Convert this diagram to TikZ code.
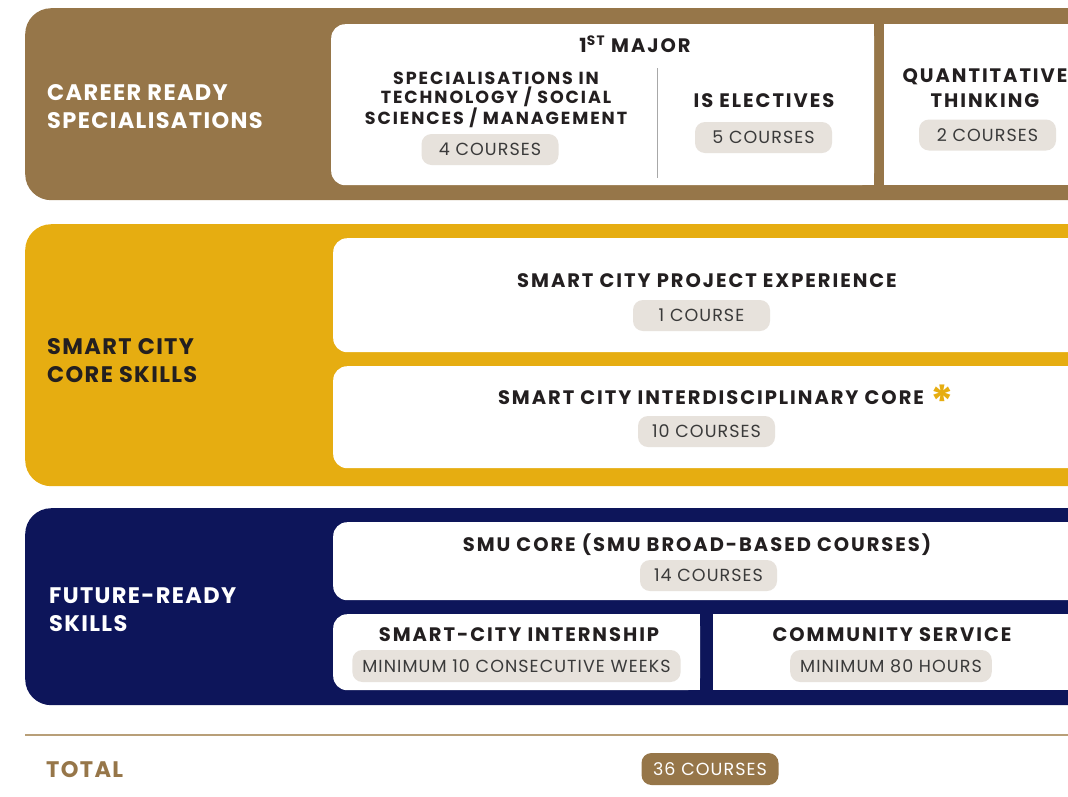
\documentclass[tikz,border=0pt]{standalone}
\usepackage{fontspec}
\setmainfont{Poppins}
\definecolor{cbrown}{HTML}{967649}
\definecolor{cyellow}{HTML}{E6AD11}
\definecolor{cnavy}{HTML}{0D155A}
\definecolor{cpill}{HTML}{E7E2DC}
\definecolor{cdark}{HTML}{231F20}
\definecolor{cpilltext}{HTML}{3A3A3A}
\definecolor{cline}{HTML}{B89F78}
\definecolor{cdiv}{HTML}{A8A8A8}
\begin{document}
\begin{tikzpicture}[x=1pt,y=-1pt,
  band/.style={rounded corners=26pt, inner sep=0pt, anchor=north west, minimum width=1100pt},
  wbox/.style={fill=white, rounded corners=14pt, inner sep=0pt, anchor=north west},
  sbox/.style={fill=white, inner sep=0pt, anchor=north west},
  bandtitle/.style={font=\bfseries\fontsize{22.5}{28}\selectfont\addfontfeature{LetterSpace=6},
    align=left, anchor=west, inner xsep=0pt},
  boxtitle/.style={font=\bfseries\fontsize{19.5}{25}\selectfont\addfontfeature{LetterSpace=10},
    text=cdark, align=center},
  spectitle/.style={font=\bfseries\fontsize{17.5}{19}\selectfont\addfontfeature{LetterSpace=11},
    text=cdark, align=center},
  pill/.style={fill=cpill, rounded corners=10pt, minimum width=137pt, minimum height=31pt,
    inner xsep=10pt, inner ysep=0pt,
    font=\fontsize{17.5}{19}\selectfont\addfontfeature{LetterSpace=6}, text=cpilltext}
]
\useasboundingbox (0,0) rectangle (1068,796);
\clip (0,0) rectangle (1068,796);
% bands
\node[band, fill=cbrown, minimum height=192pt] (b1) at (25,8) {};
\node[band, fill=cyellow, minimum height=262pt] (b2) at (25,224) {};
\node[band, fill=cnavy, minimum height=197pt] (b3) at (25,508) {};
% band 1 boxes
\node[wbox, minimum width=543pt, minimum height=161pt] (maj) at (331,24) {};
\fill[white] ([xshift=-20pt]maj.north east) rectangle (maj.south east);
\node[sbox, minimum width=200pt, minimum height=161pt] (qtb) at (884,24) {};
\draw[cdiv, line width=1.5pt] (657.5,68) -- (657.5,178);
% band 2 boxes
\node[wbox, minimum width=760pt, minimum height=114pt] (pe) at (333,238) {};
\node[wbox, minimum width=760pt, minimum height=102pt] (ic) at (333,366) {};
% band 3 boxes
\node[wbox, minimum width=760pt, minimum height=78pt] (smu) at (333,522) {};
\node[wbox, minimum width=367pt, minimum height=76pt] (ins) at (333,614) {};
\fill[white] ([xshift=-20pt]ins.north east) rectangle (ins.south east);
\node[sbox, minimum width=400pt, minimum height=76pt] (cs) at (713,614) {};
% total line
\coordinate (l0) at (25,735);
\coordinate (l1) at (1068,735);
\draw[cline, line width=1.5pt] (l0) -- (l1);

% band titles
\node[bandtitle, text=white] (t1) at (47,107) {CAREER READY\\SPECIALISATIONS};
\node[bandtitle, text=cdark] (t2) at (47,360.5) {SMART CITY\\CORE SKILLS};
\node[bandtitle, text=white] (t3) at (49,609.5) {FUTURE-READY\\SKILLS};
\node[bandtitle, text=cbrown] (t4) at (46,770) {TOTAL};

% band 1 contents
\node[boxtitle] (majt) at (635,44) {1\textsuperscript{ST} MAJOR};
\node[spectitle] (spec) at (496,100) {SPECIALISATIONS IN\\TECHNOLOGY / SOCIAL\\SCIENCES / MANAGEMENT};
\node[pill] (p4) at (490,149.5) {4 COURSES};
\node[boxtitle] (ise) at (764,101) {IS ELECTIVES};
\node[pill] (p5) at (763.5,137.5) {5 COURSES};
\node[boxtitle] (qt) at (985,88.5) {QUANTITATIVE\\THINKING};
\node[pill] (p2) at (987.5,135) {2 COURSES};

% band 2 contents
\node[boxtitle] (pet) at (707,281) {SMART CITY PROJECT EXPERIENCE};
\node[pill] (p1) at (701.5,315.5) {1 COURSE};
\node[boxtitle] (ict) at (711,398) {SMART CITY INTERDISCIPLINARY CORE};
\node[text=cyellow, font=\bfseries\fontsize{44}{44}\selectfont, inner sep=0pt, anchor=north] (ast) at (942,385) {*};
\node[pill] (p10) at (706.5,431.5) {10 COURSES};

% band 3 contents
\node[boxtitle] (smut) at (697,545) {SMU CORE (SMU BROAD-BASED COURSES)};
\node[pill] (p14) at (708.5,575.5) {14 COURSES};
\node[boxtitle] (inst) at (519,635) {SMART-CITY INTERNSHIP};
\node[pill, minimum height=32pt] (pw) at (516.5,666) {MINIMUM 10 CONSECUTIVE WEEKS};
\node[boxtitle] (cst) at (892,635) {COMMUNITY SERVICE};
\node[pill, minimum height=32pt] (ph) at (891,666) {MINIMUM 80 HOURS};

% total
\node[pill, fill=cbrown, text=white, minimum height=32pt] (p36) at (710,769) {36 COURSES};
\end{tikzpicture}
\end{document}
